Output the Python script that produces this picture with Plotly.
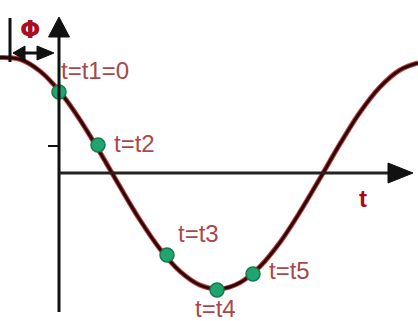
import plotly.graph_objects as go

# Curve samples (t, phi); origin at the axes crossing
curve_t = [-59, -39, -19, 1, 21, 41, 61, 81, 101, 121, 141, 161, 181, 201,
           221, 241, 261, 281, 301, 321, 341, 359]
curve_phi = [115.5, 113.7, 101.9, 81.1, 53.2, 20.6, -13.8, -47.0, -76.0, -98.4,
             -112.1, -115.9, -109.6, -93.5, -69.3, -38.9, -5.2, 29.1, 60.7, 86.0,
             103.0, 110.0]

# Marked instants
point_labels = ["t=t1=0", "t=t2", "t=t3", "t=t4", "t=t5"]
point_t = [0, 39, 108, 158, 194]
point_phi = [81, 28, -82, -117, -101]

# Label offsets relative to points (in data units) and anchors
label_dt = [1, 15, 31, -2, 15]
label_dphi = [22, 2, 22, -18, 4]
label_anchor = ["left", "left", "center", "center", "left"]

TEXT_COLOR = "#a8484a"
AX = "#111111"

fig = go.Figure()

# reddish halo under curve
fig.add_trace(go.Scatter(x=curve_t, y=curve_phi, mode="lines",
                         line=dict(color="#c84040", width=5, shape="spline"),
                         hoverinfo="skip", showlegend=False))
fig.add_trace(go.Scatter(x=curve_t, y=curve_phi, mode="lines",
                         line=dict(color="#2a0808", width=3, shape="spline"),
                         hoverinfo="skip", showlegend=False))

shapes = []
# vertical axis
shapes.append(dict(type="line", x0=0, x1=0, y0=-139, y1=140,
                   line=dict(color=AX, width=3)))
shapes.append(dict(type="path", path="M -10.5 136 L 10.5 136 L 0 156 Z",
                   fillcolor=AX, line=dict(color=AX, width=1)))
# horizontal axis
shapes.append(dict(type="line", x0=0, x1=331, y0=0, y1=0,
                   line=dict(color="#222222", width=3)))
shapes.append(dict(type="path", path="M 329 10 L 329 -10 L 354 0 Z",
                   fillcolor=AX, line=dict(color=AX, width=1)))
# small tick
shapes.append(dict(type="line", x0=-11, x1=0, y0=27, y1=27,
                   line=dict(color=AX, width=2)))
# phase reference line and double arrow
shapes.append(dict(type="line", x0=-49, x1=-49, y0=111, y1=155,
                   line=dict(color=AX, width=3)))
shapes.append(dict(type="line", x0=-40, x1=-10, y0=120, y1=120,
                   line=dict(color=AX, width=3)))
shapes.append(dict(type="path", path="M -34 127 L -34 113 L -46 120 Z",
                   fillcolor=AX, line=dict(color=AX, width=1)))
shapes.append(dict(type="path", path="M -22 127 L -22 113 L -5 120 Z",
                   fillcolor=AX, line=dict(color=AX, width=1)))

fig.add_trace(go.Scatter(x=point_t, y=point_phi, mode="markers",
                         marker=dict(size=14, color="#22a46e",
                                     line=dict(color="#127a50", width=1.5)),
                         hoverinfo="skip", showlegend=False))

annotations = []
for lab, t, p, dt, dp, anc in zip(point_labels, point_t, point_phi,
                                  label_dt, label_dphi, label_anchor):
    annotations.append(dict(x=t + dt, y=p + dp, text=lab, showarrow=False,
                            xanchor=anc, yanchor="middle", borderpad=0,
                            font=dict(family="Liberation Sans, Arial", size=24,
                                      color=TEXT_COLOR)))
annotations.append(dict(x=304, y=-25, text="<b>t</b>", showarrow=False,
                        xanchor="center", yanchor="middle",
                        font=dict(family="Liberation Sans, Arial", size=24,
                                  color="#a80c10")))
annotations.append(dict(x=-29, y=143, text="<b>Φ</b>", showarrow=False,
                        xanchor="center", yanchor="middle",
                        font=dict(family="DejaVu Sans", size=24,
                                  color="#a81020")))

fig.update_layout(
    width=418, height=321,
    margin=dict(l=0, r=0, t=0, b=0),
    paper_bgcolor="white", plot_bgcolor="white",
    xaxis=dict(range=[-59, 359], visible=False, fixedrange=True),
    yaxis=dict(range=[-148, 173], visible=False, fixedrange=True),
    shapes=shapes, annotations=annotations,
)
fig.write_html("out.html",
               config={"displayModeBar": False},
               post_script="document.body.style.margin='0';"
                           "document.body.style.overflow='hidden';")
